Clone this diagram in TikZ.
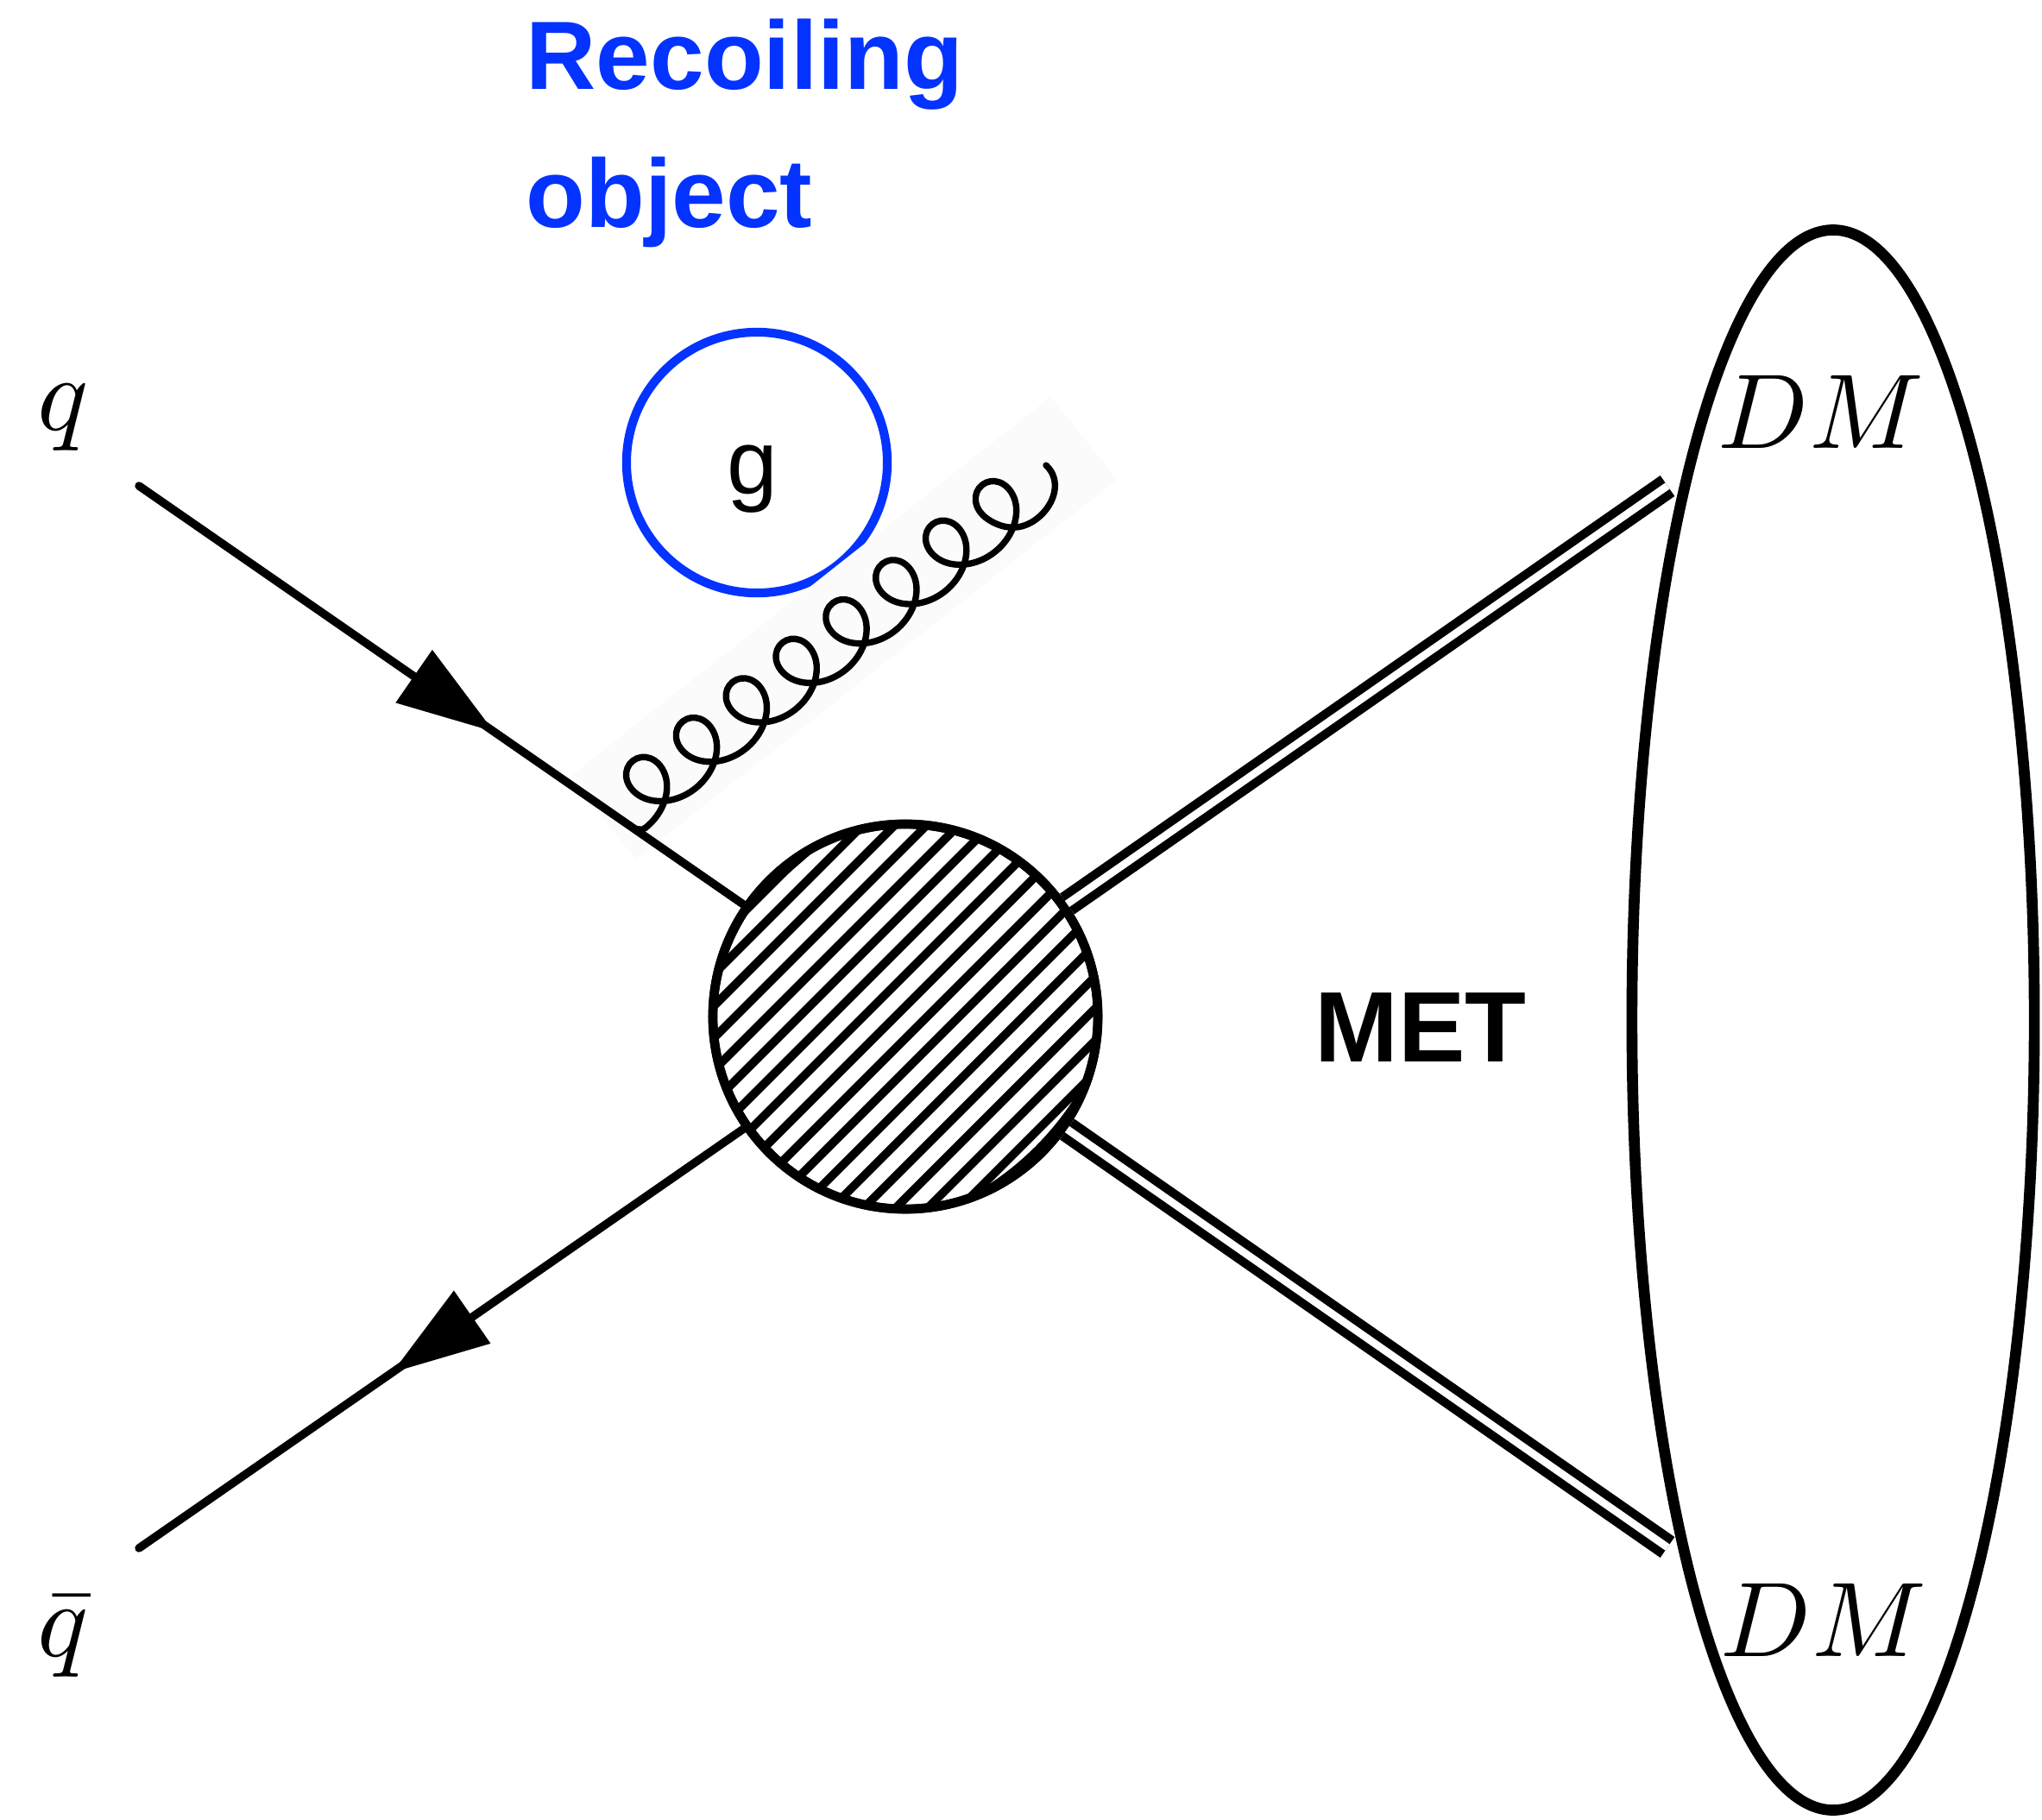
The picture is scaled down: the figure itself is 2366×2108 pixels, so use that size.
\documentclass[tikz,border=0pt]{standalone}
\usepackage{fontspec}
\newfontfamily\hv{Liberation Sans}
\usetikzlibrary{arrows.meta,decorations.markings,shapes.geometric}
\definecolor{recoil}{RGB}{4,51,255}
\newcommand{\biglabel}[1]{\scalebox{3.5}{$#1$}}
\begin{document}
\begin{tikzpicture}[x=0.01cm,y=-0.01cm,
  fermion/.style={line width=2.7pt, line cap=round},
  fline/.style={fermion, postaction={decorate}, decoration={markings, mark=at position #1 with {\arrow{Triangle[length=1.13cm,width=0.72cm]}}}},
  dmline/.style={double, double distance=2.5pt, line width=2.9pt},
  gluon/.style={line width=2.1pt, line cap=round, line join=round},
  gframe/.style={shift={(gs)}, rotate=38.3, yscale=-1},
  mathlabel/.style={inner sep=0, anchor=base},
  boldlabel/.style={font=\hv\bfseries\fontsize{32}{45.5}\selectfont, inner sep=0},
  hatch/.style={line width=2.8pt}
]
\useasboundingbox (0,0) rectangle (2366,2108);

% external points
\coordinate (qs) at (161,563);
\coordinate (qbe) at (161,1794);
\coordinate (d1) at (1932,563);
\coordinate (d2) at (1932,1793);
\coordinate (gs) at (734,960);

% recoiling object
\node[boldlabel, text=recoil, align=left, anchor=base west] (rec) at (609,263) {Recoiling\\object};
\node[circle, draw=recoil, line width=2.9pt, minimum size=3.02cm, inner sep=0] (gcirc) at (877,536) {};
\node[font=\hv\fontsize{30}{36}\selectfont, inner sep=0, anchor=base] (gtxt) at (872,572) {g};

% faint band behind the gluon
\begin{scope}[gframe]
  \fill[black!1.5] (-20,-30) rectangle (690,93);
\end{scope}

% blob
\node[circle, draw, line width=3pt, minimum size=4.46cm, inner sep=0, fill=white] (blob) at (1049,1178) {};
\begin{scope}
  \clip (blob.center) circle (223);
  \foreach \k in {-9,...,9} {
    \draw[hatch] (blob.center) ++({\k*18.53-5.87},{\k*18.53-5.87}) ++(-300,300) -- ++(600,-600);
  }
  \fill (blob.center) ++(-114.6:223) arc[start angle=-114.6, end angle=-147.2, radius=223] -- cycle;
  \fill[even odd rule] (blob.center) ++(-135:124.7) circle (337.7) circle (460);
\end{scope}
\draw[line width=3pt] (blob.center) circle (223);

% fermion lines
\draw[fline=0.5877] (qs) -- (blob);
\draw[fline=0.5813] (blob) -- (qbe);

% DM lines
\draw[dmline] (blob) -- (d1);
\draw[dmline] (blob) -- (d2);

% gluon
\begin{scope}[gframe]
  \coordinate (ge) at (636,34);
  \draw[gluon] (gs) .. controls (4,-4) and (6,-8) .. (11.13,-8)
    .. controls (38.36,-8) and (61.41,7.57) .. (67.55,27)
    .. controls (73.69,46.43) and (62.93,62) .. (47.98,62)
    .. controls (33.03,62) and (22.26,46.43) .. (28.4,27)
    \foreach[evaluate=\k as \uz using {-45.3+73.7*\k}] \k in {1,...,7} {
      .. controls ({\uz+6.14},7.57) and ({\uz+29.19},-8) .. ({\uz+56.43},-8)
      .. controls ({\uz+83.66},-8) and ({\uz+106.71},7.57) .. ({\uz+112.85},27)
      .. controls ({\uz+118.99},46.43) and ({\uz+108.23},62) .. ({\uz+93.28},62)
      .. controls ({\uz+78.33},62) and ({\uz+67.56},46.43) .. ({\uz+73.7},27)
    }
    .. controls (550.44,7.57) and (565,-8) .. (590,-8)
    .. controls (617,-8) and (640,10) .. (ge);
\end{scope}

% MET ellipse
\node[ellipse, draw, line width=3.6pt, minimum width=4.66cm, minimum height=18.3cm, inner sep=0] (dmbox) at (2124,1182) {};

% labels
\node[mathlabel] (q) at (73,498) {\biglabel{q}};
\node[mathlabel] (qb) at (73,1919) {\biglabel{\bar q}};
\node[mathlabel] (dm1) at (2110,519) {\biglabel{DM}};
\node[mathlabel] (dm2) at (2113,1919) {\biglabel{DM}};
\node[font=\hv\bfseries\fontsize{33}{40}\selectfont, inner sep=0, anchor=base] (met) at (1646,1230) {MET};
\end{tikzpicture}
\end{document}
